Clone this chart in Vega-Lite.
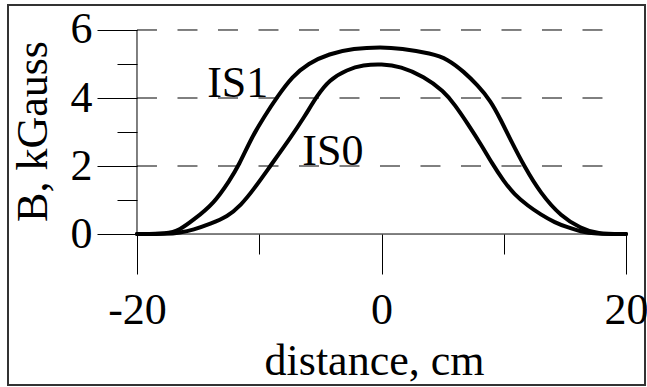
{
  "$schema": "https://vega.github.io/schema/vega-lite/v6.json",
  "width": 637,
  "height": 380,
  "autosize": {"type": "none"},
  "padding": {"left": 8, "top": 5, "right": 2, "bottom": 2},
  "background": "white",
  "config": {
    "view": {"stroke": "#333333", "strokeWidth": 2},
    "font": "Liberation Serif",
    "axis": {
      "labelFont": "Liberation Serif",
      "titleFont": "Liberation Serif",
      "labelFontSize": 44,
      "titleFontSize": 44,
      "titleFontWeight": "normal",
      "labelColor": "black",
      "titleColor": "black",
      "tickColor": "black",
      "tickWidth": 1,
      "labelFlush": false,
      "labelOverlap": false,
      "labelBound": false,
      "grid": false,
      "domain": false
    }
  },
  "datasets": {
    "field": [
      {"d": -20, "B": 0, "s": "IS1"},
      {"d": -17.5, "B": 0, "s": "IS1"},
      {"d": -16.5, "B": 0.12, "s": "IS1"},
      {"d": -15.4, "B": 0.41, "s": "IS1"},
      {"d": -13.7, "B": 0.9, "s": "IS1"},
      {"d": -12.4, "B": 1.59, "s": "IS1"},
      {"d": -11.7, "B": 2.0, "s": "IS1"},
      {"d": -10.6, "B": 2.85, "s": "IS1"},
      {"d": -9.6, "B": 3.45, "s": "IS1"},
      {"d": -8.5, "B": 4.05, "s": "IS1"},
      {"d": -7.3, "B": 4.63, "s": "IS1"},
      {"d": -6.0, "B": 5.02, "s": "IS1"},
      {"d": -4.3, "B": 5.3, "s": "IS1"},
      {"d": -2.3, "B": 5.46, "s": "IS1"},
      {"d": 0, "B": 5.5, "s": "IS1"},
      {"d": 1.56, "B": 5.46, "s": "IS1"},
      {"d": 4.1, "B": 5.31, "s": "IS1"},
      {"d": 5.39, "B": 5.15, "s": "IS1"},
      {"d": 6.75, "B": 4.77, "s": "IS1"},
      {"d": 7.84, "B": 4.38, "s": "IS1"},
      {"d": 8.93, "B": 3.92, "s": "IS1"},
      {"d": 9.75, "B": 3.36, "s": "IS1"},
      {"d": 10.57, "B": 2.76, "s": "IS1"},
      {"d": 11.66, "B": 2.0, "s": "IS1"},
      {"d": 13.0, "B": 1.2, "s": "IS1"},
      {"d": 14.7, "B": 0.51, "s": "IS1"},
      {"d": 16.3, "B": 0.17, "s": "IS1"},
      {"d": 17.6, "B": 0, "s": "IS1"},
      {"d": 20, "B": 0, "s": "IS1"},
      {"d": -20, "B": 0, "s": "IS0"},
      {"d": -17.5, "B": 0, "s": "IS0"},
      {"d": -16.5, "B": 0.04, "s": "IS0"},
      {"d": -15.4, "B": 0.12, "s": "IS0"},
      {"d": -14.0, "B": 0.3, "s": "IS0"},
      {"d": -12.6, "B": 0.51, "s": "IS0"},
      {"d": -11.5, "B": 0.85, "s": "IS0"},
      {"d": -10.5, "B": 1.29, "s": "IS0"},
      {"d": -9.1, "B": 2.0, "s": "IS0"},
      {"d": -7.5, "B": 2.8, "s": "IS0"},
      {"d": -6.3, "B": 3.45, "s": "IS0"},
      {"d": -5.3, "B": 4.05, "s": "IS0"},
      {"d": -4.3, "B": 4.53, "s": "IS0"},
      {"d": -2.8, "B": 4.84, "s": "IS0"},
      {"d": -1.5, "B": 4.97, "s": "IS0"},
      {"d": 0, "B": 5.0, "s": "IS0"},
      {"d": 1.56, "B": 4.93, "s": "IS0"},
      {"d": 3.47, "B": 4.63, "s": "IS0"},
      {"d": 5.1, "B": 4.2, "s": "IS0"},
      {"d": 6.0, "B": 3.8, "s": "IS0"},
      {"d": 7.02, "B": 3.26, "s": "IS0"},
      {"d": 8.2, "B": 2.6, "s": "IS0"},
      {"d": 9.0, "B": 2.1, "s": "IS0"},
      {"d": 10.0, "B": 1.55, "s": "IS0"},
      {"d": 10.85, "B": 1.17, "s": "IS0"},
      {"d": 12.0, "B": 0.82, "s": "IS0"},
      {"d": 13.0, "B": 0.58, "s": "IS0"},
      {"d": 14.2, "B": 0.33, "s": "IS0"},
      {"d": 15.2, "B": 0.2, "s": "IS0"},
      {"d": 16.3, "B": 0.07, "s": "IS0"},
      {"d": 17.4, "B": 0, "s": "IS0"},
      {"d": 20, "B": 0, "s": "IS0"}
    ],
    "grid": [{"g": 2}, {"g": 4}, {"g": 6}],
    "labels": [
      {"label": "IS1", "x": -14.26, "y": 4.02},
      {"label": "IS0", "x": -6.48, "y": 2.03}
    ]
  },
  "layer": [
    {
      "data": {"name": "grid"},
      "mark": {"type": "rule", "color": "black", "strokeWidth": 1, "strokeDash": [20, 20.5]},
      "encoding": {
        "y": {"field": "g", "type": "quantitative", "scale": {"domain": [-4.44, 6.735], "nice": false, "zero": false}, "title": "B, kGauss"},
        "x": {"datum": -20, "type": "quantitative", "scale": {"domain": [-30.55, 21.55], "nice": false, "zero": false}, "title": "distance, cm"},
        "x2": {"datum": 18.4}
      }
    },
    {
      "data": {"values": [{}]},
      "mark": {"type": "rule", "color": "black", "strokeWidth": 1},
      "encoding": {
        "y": {"datum": 0, "type": "quantitative", "scale": {"domain": [-4.44, 6.735], "nice": false, "zero": false}, "title": "B, kGauss"},
        "x": {"datum": -20, "type": "quantitative", "scale": {"domain": [-30.55, 21.55], "nice": false, "zero": false}, "title": "distance, cm"},
        "x2": {"datum": 20}
      }
    },
    {
      "data": {"values": [{}]},
      "mark": {"type": "rule", "color": "black", "strokeWidth": 1},
      "encoding": {
        "x": {"datum": -20, "type": "quantitative", "scale": {"domain": [-30.55, 21.55], "nice": false, "zero": false}, "title": "distance, cm"},
        "y": {"datum": 0, "type": "quantitative", "scale": {"domain": [-4.44, 6.735], "nice": false, "zero": false}, "title": "B, kGauss"},
        "y2": {"datum": 6}
      }
    },
    {
      "data": {"name": "field"},
      "mark": {"type": "line", "strokeWidth": 4, "interpolate": "basis", "strokeCap": "round", "strokeJoin": "round"},
      "encoding": {
        "x": {
          "field": "d", "type": "quantitative",
          "scale": {"domain": [-30.55, 21.55], "nice": false, "zero": false},
          "title": "distance, cm",
          "axis": {
            "title": "distance, cm",
            "values": [-20, -10, 0, 10, 20],
            "offset": -151,
            "tickSize": {"condition": {"test": "abs(datum.value) == 10", "value": 20}, "value": 40},
            "labelExpr": "abs(datum.value) == 10 ? '' : (datum.value < 0 ? '-' + abs(datum.value) : '' + datum.value)",
            "labelPadding": 14,
            "titlePadding": 7,
            "titleX": 366,
            "titleAlign": "center"
          }
        },
        "y": {
          "field": "B", "type": "quantitative",
          "scale": {"domain": [-4.44, 6.735], "nice": false, "zero": false},
          "title": "B, kGauss",
          "axis": {
            "title": "B, kGauss",
            "values": [0, 1, 2, 3, 4, 5, 6],
            "offset": -129,
            "tickSize": {"condition": {"test": "datum.value % 2 == 1", "value": 20}, "value": 40},
            "labelExpr": "datum.value % 2 == 1 ? '' : datum.label",
            "labelPadding": 5,
            "titlePadding": 15,
            "titleY": 126,
            "titleAlign": "center"
          }
        },
        "color": {"field": "s", "type": "nominal", "scale": {"range": ["black", "black"]}, "legend": null}
      }
    },
    {
      "data": {"name": "labels"},
      "mark": {"type": "text", "align": "left", "baseline": "alphabetic", "fontSize": 44, "font": "Liberation Serif", "color": "black"},
      "encoding": {
        "x": {"field": "x", "type": "quantitative", "scale": {"domain": [-30.55, 21.55], "nice": false, "zero": false}, "title": "distance, cm"},
        "y": {"field": "y", "type": "quantitative", "scale": {"domain": [-4.44, 6.735], "nice": false, "zero": false}, "title": "B, kGauss"},
        "text": {"field": "label"}
      }
    }
  ]
}
